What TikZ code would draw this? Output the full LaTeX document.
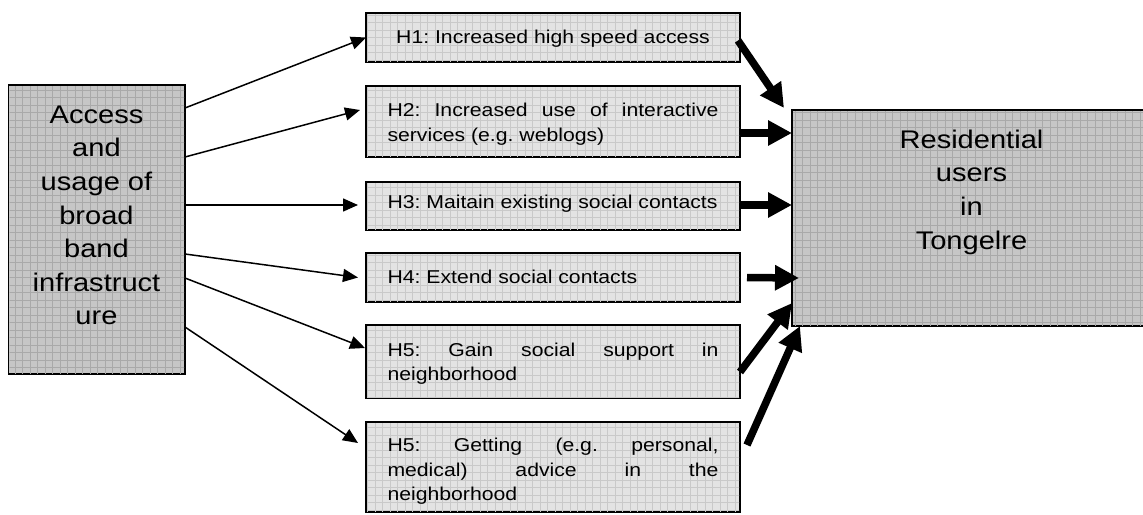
\documentclass[tikz,border=0pt]{standalone}
\usepackage{fontspec}
\newfontfamily\diagfont[FakeStretch=1.14]{Liberation Sans}
\usetikzlibrary{arrows.meta,calc}
\frenchspacing
\definecolor{boxdark}{HTML}{C6C6C6}
\definecolor{griddark}{HTML}{A9A9A9}
\definecolor{boxlight}{HTML}{E3E3E3}
\definecolor{gridlight}{HTML}{C9C9C9}
\newcommand\bigfont{\diagfont\fontsize{25.5}{33.6}\selectfont}
\newcommand\midfont{\diagfont\fontsize{18.6}{24.6}\selectfont}
\newcommand\fullline[1]{\makebox[\linewidth][s]{#1}}
% fine grid texture inside a box node
\newcommand\boxgrid[2]{%
  \begin{scope}
    \clip ($(#1.north west)+(1,1)$) rectangle ($(#1.south east)+(-1,-1)$);
    \draw[#2, line width=0.6pt, step=7.5pt] (#1.north west) grid (#1.south east);
  \end{scope}}
\begin{document}
\begin{tikzpicture}[x=1pt,y=-1pt,
  box/.style={draw=black, line width=1.6pt, rectangle, anchor=north west,
    inner sep=0pt, outer sep=0pt},
  darkbox/.style={box, fill=boxdark},
  lightbox/.style={box, fill=boxlight, minimum width=374pt},
  thinarrow/.style={-{Triangle[length=15pt,width=13pt]}, line width=1.5pt},
  thickarrow/.style={-{Triangle[length=24pt,width=24pt]}, line width=7.5pt},
  txt/.style={inner sep=0pt, outer sep=0pt}]
\useasboundingbox (0,0) rectangle (1143,514);

% boxes
\node[darkbox, minimum width=176.5pt, minimum height=289pt] (L) at (8.5,85) {};
\node[darkbox, minimum width=360pt, minimum height=216pt] (R) at (792,110) {};
\node[lightbox, minimum height=49pt] (h1) at (366,13) {};
\node[lightbox, minimum height=71pt] (h2) at (366,86) {};
\node[lightbox, minimum height=48pt] (h3) at (366,182) {};
\node[lightbox, minimum height=49pt] (h4) at (366,253) {};
\node[lightbox, minimum height=73pt] (h5) at (366,325) {};
\node[lightbox, minimum height=90pt] (h6) at (366,422) {};

\boxgrid{L}{griddark}
\boxgrid{R}{griddark}
\foreach \n in {h1,h2,h3,h4,h5,h6} {\boxgrid{\n}{gridlight}}

% thin arrows from the infrastructure box to the hypotheses
\draw[thinarrow] ($(L.north east)+(0,23)$)  -- (h1.west);
\draw[thinarrow] ($(L.north east)+(0,72)$)  -- ($(h2.north west)+(-6,24)$);
\draw[thinarrow] ($(L.north east)+(0,120)$) -- ($(h3.west)+(-8,-1)$);
\draw[thinarrow] ($(L.north east)+(0,169)$) -- ($(h4.west)+(-8,0)$);
\draw[thinarrow] ($(L.north east)+(0,193)$) -- ($(h5.north west)+(-1,23)$);
\draw[thinarrow] ($(L.north east)+(0,242)$) -- ($(h6.north west)+(-8,21)$);

% thick arrows from the hypotheses to the residential users
\draw[thickarrow] ($(h1.east)+(-2,3)$)        -- ($(R.north west)+(-8,-2)$);
\draw[thickarrow] ($(h2.north east)+(0,47)$)  -- ($(R.north west)+(0,23)$);
\draw[thickarrow] ($(h3.east)+(0,-1)$)        -- ($(R.north west)+(0,95)$);
\draw[thickarrow] ($(h4.east)+(7,0)$)         -- ($(R.north west)+(7,168)$);
\draw[thickarrow] ($(h5.north east)+(0,47)$)  -- ($(R.south west)+(0,-23)$);
\draw[thickarrow] ($(h6.north east)+(7,23)$)  -- ($(R.south west)+(8,0)$);

% texts
\node[txt, anchor=base] (tL) at (96.5,123.3)
  {\parbox[t]{176pt}{\centering\bigfont Access\\and\\usage of\\broad\\band\\infrastruct\\ure}};
\node[txt, anchor=base] (tR) at (971.5,148.3)
  {\parbox[t]{300pt}{\centering\bigfont Residential\\users\\in\\Tongelre}};
\node[txt, anchor=base west] (t1) at (387.5,43.3)
  {\parbox[t]{331pt}{\centering\midfont H1: Increased high speed access}};
\node[txt, anchor=base west] (t2) at (387.5,116.7)
  {\parbox[t]{331pt}{\midfont\fullline{H2: Increased use of interactive}\\services (e.g. weblogs)}};
\node[txt, anchor=base west] (t3) at (387.5,208.3)
  {\parbox[t]{331pt}{\midfont H3: Maitain existing social contacts}};
\node[txt, anchor=base west] (t4) at (387.5,283.3)
  {\parbox[t]{331pt}{\midfont H4: Extend social contacts}};
\node[txt, anchor=base west] (t5) at (387.5,356)
  {\parbox[t]{331pt}{\midfont\fullline{H5: Gain social support in}\\neighborhood}};
\node[txt, anchor=base west] (t6) at (387.5,451.7)
  {\parbox[t]{331pt}{\midfont\fullline{H5: Getting (e.g. personal,}\\\fullline{medical) advice in the}\\neighborhood}};
\end{tikzpicture}
\end{document}
